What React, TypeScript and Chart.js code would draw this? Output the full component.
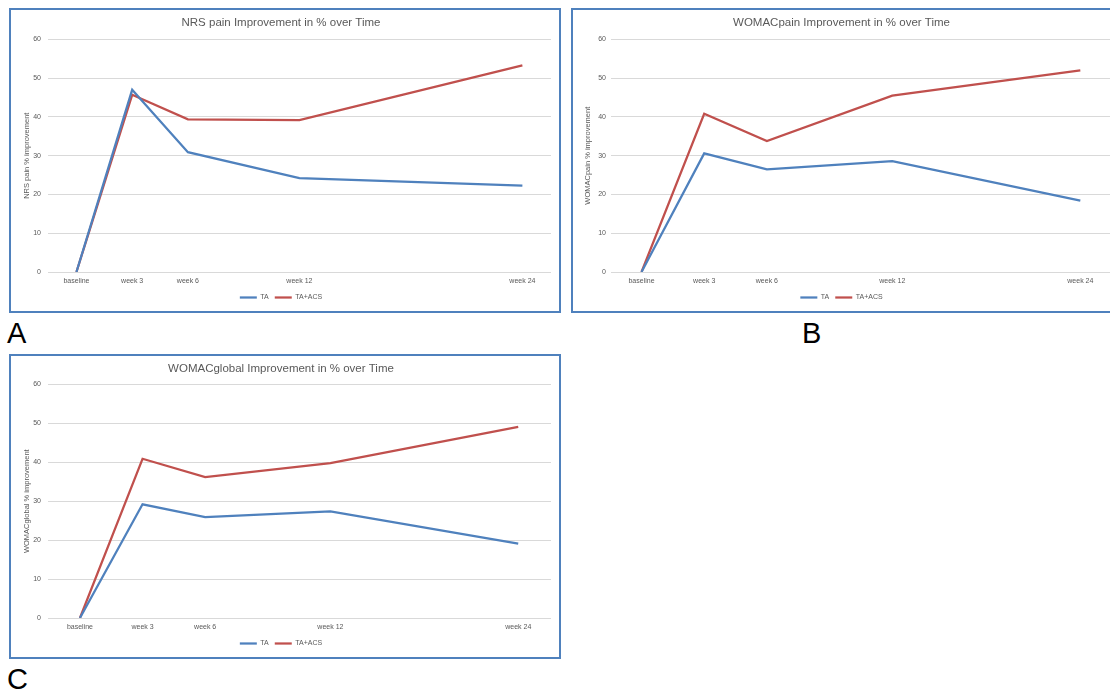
import React, { useEffect, useRef } from "react";
import { Chart, registerables } from "chart.js";
Chart.register(...registerables);

// ---- data ----
const timeLabels = ["baseline", "week 3", "week 6", "week 12", "week 24"];
const timeAxisA = [0, 3, 6, 12, 24];
const timeAxisB = [0, 3, 6, 12, 21];
const timeAxisC = [0, 3, 6, 12, 21];
const nrsTA = [0, 47, 30.9, 24.2, 22.3];
const nrsTAACS = [0, 45.7, 39.4, 39.2, 53.3];
const womacPainTA = [0, 30.6, 26.5, 28.6, 18.4];
const womacPainTAACS = [0, 40.8, 33.8, 45.5, 52];
const womacGlobalTA = [0, 29.2, 25.9, 27.4, 19.1];
const womacGlobalTAACS = [0, 40.9, 36.2, 39.8, 49.1];
const seriesNames = ["TA", "TA+ACS"];

const FONT = "'Liberation Sans', Arial, sans-serif";
const TEXT = "#595959";
const BLUE = "#4f81bd";
const RED = "#c0504d";

type PanelSpec = {
  title: string;
  yTitle: string;
  xs: number[];
  ta: number[];
  acs: number[];
  xMin: number;
  xMax: number;
  padRight: number;
  yWidth: number;
  yTitlePad: number;
  yTickPad: number;
  titleBottom: number;
  xHeight: number;
};

function buildConfig(p: PanelSpec): any {
  const pts = (vals: number[]) => vals.map((v, i) => ({ x: p.xs[i], y: v }));
  return {
    type: "line",
    data: {
      datasets: [
        { label: seriesNames[0], data: pts(p.ta), borderColor: BLUE, backgroundColor: BLUE, borderWidth: 2.25, pointRadius: 0, tension: 0 },
        { label: seriesNames[1], data: pts(p.acs), borderColor: RED, backgroundColor: RED, borderWidth: 2.25, pointRadius: 0, tension: 0 },
      ],
    },
    options: {
      responsive: false,
      animation: false,
      events: [],
      devicePixelRatio: 1,
      layout: { padding: { left: 0, right: p.padRight, top: 0, bottom: 0 } },
      plugins: {
        title: {
          display: true,
          text: p.title,
          color: TEXT,
          font: { family: FONT, size: 11.5, weight: "normal" },
          padding: { top: 6, bottom: p.titleBottom - 1 },
        },
        legend: {
          position: "bottom",
          labels: {
            usePointStyle: true,
            pointStyle: "line",
            pointStyleWidth: 17,
            color: TEXT,
            font: { family: FONT, size: 7 },
            padding: 6,
          },
        },
        tooltip: { enabled: false },
      },
      scales: {
        x: {
          type: "linear",
          min: p.xMin,
          max: p.xMax,
          afterBuildTicks: (s: any) => {
            s.ticks = p.xs.map((v) => ({ value: v }));
          },
          afterFit: (s: any) => {
            s.height = p.xHeight;
          },
          ticks: {
            autoSkip: false,
            maxRotation: 0,
            padding: 5,
            color: TEXT,
            font: { family: FONT, size: 7 },
            callback: (_v: any, i: number) => timeLabels[i],
          },
          grid: { display: false, drawTicks: false },
          border: { display: false },
        },
        y: {
          min: 0,
          max: 60,
          afterFit: (s: any) => {
            s.width = p.yWidth;
          },
          ticks: { stepSize: 10, padding: p.yTickPad, color: TEXT, font: { family: FONT, size: 7 } },
          grid: { color: "#d9d9d9", drawTicks: false, lineWidth: 1 },
          border: { display: false },
          title: {
            display: true,
            text: p.yTitle,
            color: TEXT,
            font: { family: FONT, size: 7.5 },
            padding: { top: p.yTitlePad, bottom: 0 },
          },
        },
      },
    },
  };
}

function Panel(props: { left: number; top: number; width: number; height: number; cw: number; ch: number; spec: PanelSpec }) {
  const ref = useRef<HTMLCanvasElement | null>(null);
  useEffect(() => {
    if (!ref.current) return;
    const chart = new Chart(ref.current, buildConfig(props.spec));
    return () => chart.destroy();
  }, []);
  return (
    <div
      style={{
        position: "absolute",
        left: props.left,
        top: props.top,
        width: props.width,
        height: props.height,
        border: `2px solid ${BLUE}`,
        boxSizing: "border-box",
        background: "#fff",
      }}
    >
      <canvas ref={ref} width={props.cw} height={props.ch} style={{ position: "absolute", left: 0, top: 0, width: props.cw, height: props.ch }} />
    </div>
  );
}

const letterStyle: React.CSSProperties = {
  position: "absolute",
  fontFamily: FONT,
  fontSize: 29,
  lineHeight: "29px",
  color: "#000",
};

export default function App() {
  const specA: PanelSpec = {
    title: "NRS pain Improvement in % over Time",
    yTitle: "NRS pain % improvement",
    xs: timeAxisA, ta: nrsTA, acs: nrsTAACS,
    xMin: -1.53, xMax: 25.54, padRight: 8, yWidth: 37, yTitlePad: 11, yTickPad: 7, titleBottom: 10.6, xHeight: 16,
  };
  const specB: PanelSpec = {
    title: "WOMACpain Improvement in % over Time",
    yTitle: "WOMACpain % improvement",
    xs: timeAxisB, ta: womacPainTA, acs: womacPainTAACS,
    xMin: -1.46, xMax: 22.42, padRight: 0, yWidth: 38, yTitlePad: 10, yTickPad: 5, titleBottom: 10.6, xHeight: 16,
  };
  const specC: PanelSpec = {
    title: "WOMACglobal Improvement in % over Time",
    yTitle: "WOMACglobal % improvement",
    xs: timeAxisC, ta: womacGlobalTA, acs: womacGlobalTAACS,
    xMin: -1.53, xMax: 22.57, padRight: 8, yWidth: 37, yTitlePad: 11, yTickPad: 7, titleBottom: 9.6, xHeight: 16,
  };
  return (
    <div style={{ position: "fixed", left: 0, top: 0, width: 1110, height: 690, overflow: "hidden", background: "#fff" }}>
      <Panel left={9} top={8} width={552} height={305} cw={548} ch={301} spec={specA} />
      <Panel left={571} top={8} width={560} height={305} cw={537} ch={301} spec={specB} />
      <Panel left={9} top={354} width={552} height={305} cw={548} ch={301} spec={specC} />
      <div style={{ ...letterStyle, left: 7, top: 319 }}>A</div>
      <div style={{ ...letterStyle, left: 802, top: 319 }}>B</div>
      <div style={{ ...letterStyle, left: 7, top: 665 }}>C</div>
    </div>
  );
}
